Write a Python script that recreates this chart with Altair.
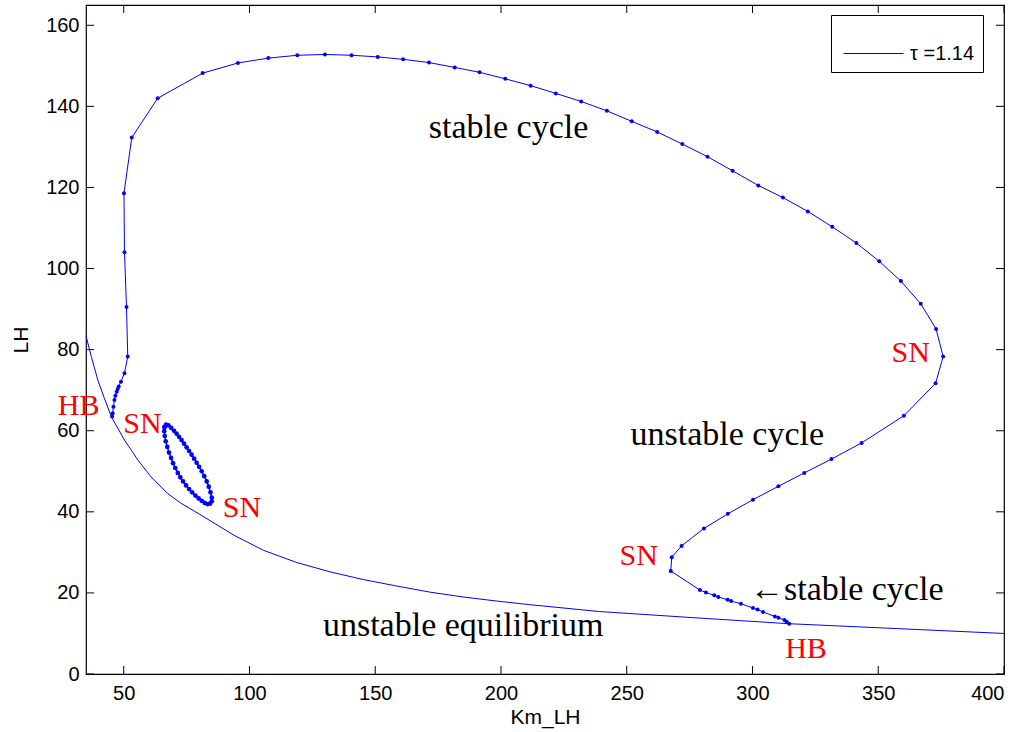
import altair as alt
import pandas as pd

# ---- data ----
# main branch of limit cycles: HB (left) -> stable cycle -> SN -> unstable cycle -> SN -> stable cycle -> HB (right)
cycle_x = [45.4, 45.6, 45.9, 46.3, 46.7, 47.2, 47.6, 48.0, 48.9, 50.3, 51.6,
           51.1, 50.3, 50.1, 53.2, 63.5, 81.4, 95.4, 107.5, 119.0, 130.0, 140.6, 151.0,
           161.1, 171.4, 181.6, 191.5, 201.7, 211.8, 221.8, 231.9, 242.1, 252.0, 262.1,
           272.1, 282.1, 292.1, 302.3, 312.1, 322.0, 331.7, 341.3, 350.4, 359.0, 366.9,
           373.0, 375.8, 372.8, 360.2, 343.4, 331.4, 320.6, 310.3, 300.2, 290.2, 280.7,
           271.8, 267.9, 267.5, 279.1, 281.5, 284.8, 286.4, 290.1, 291.5, 295.4, 300.2,
           302.0, 304.2, 308.9, 310.3, 312.7, 313.6, 314.6]
cycle_y = [63.5, 64.3, 65.9, 67.6, 68.6, 69.6, 70.3, 70.9, 72.1, 74.2, 78.3,
           90.5, 104.0, 118.6, 132.3, 142.0, 148.2, 150.7, 151.9, 152.6, 152.8, 152.6, 152.2,
           151.6, 150.8, 149.6, 148.4, 146.8, 145.1, 143.2, 141.2, 138.9, 136.3, 133.7,
           130.7, 127.6, 124.1, 120.5, 117.5, 114.1, 110.3, 106.3, 101.8, 96.9, 91.3,
           85.1, 78.3, 71.7, 63.7, 57.0, 53.0, 49.6, 46.3, 43.0, 39.5, 35.9,
           31.6, 28.8, 25.4, 20.7, 20.1, 19.4, 19.0, 18.3, 18.0, 17.3, 16.3,
           15.9, 15.3, 14.2, 13.9, 13.3, 12.9, 12.4]

# isolated closed loop of cycles (between the two SN points)
isola_x = [66.2, 66.8, 67.8, 68.9, 70.0, 71.0, 72.0, 73.0, 74.0, 75.0, 76.0, 77.0, 78.0,
           79.0, 80.0, 81.0, 82.0, 83.0, 83.8, 84.5, 85.0, 85.0, 84.3, 83.3, 82.2, 81.0,
           79.8, 78.5, 77.2, 76.0, 74.8, 73.6, 72.5, 71.5, 70.5, 69.6, 68.8, 68.0, 67.3,
           66.7, 66.3, 66.1, 66.2]
isola_y = [60.9, 61.5, 61.3, 60.7, 60.0, 59.3, 58.5, 57.7, 56.8, 55.9, 55.0, 54.1, 53.1,
           52.1, 51.1, 50.0, 48.8, 47.5, 46.2, 44.8, 43.5, 42.6, 42.0, 41.9, 42.2, 42.7,
           43.3, 44.0, 44.8, 45.6, 46.5, 47.5, 48.5, 49.6, 50.8, 52.0, 53.3, 54.6, 56.0,
           57.4, 58.7, 59.9, 60.9]

# equilibrium branch
equil_x = [35.0, 37.1, 39.7, 42.3, 45.2, 50.3, 55.6, 60.9, 67.5, 72.8, 80.7, 87.3,
           93.9, 105.6, 118.8, 132.0, 145.2, 158.5, 171.7, 184.9, 198.2, 211.4,
           239.2, 278.8, 314.6, 357.4, 400.0]
equil_y = [83.4, 78.3, 72.5, 68.0, 63.3, 57.7, 52.8, 48.6, 44.5, 42.1, 39.2, 36.7,
           34.2, 30.5, 27.5, 25.2, 23.3, 21.7, 20.2, 19.0, 18.0, 17.1,
           15.4, 13.8, 12.4, 11.2, 10.0]

x_ticks = [50, 100, 150, 200, 250, 300, 350, 400]
y_ticks = [0, 20, 40, 60, 80, 100, 120, 140, 160]

series_label = "\u03c4 =1.14"

# annotations (text, left x and baseline y in data units)
words_text = ["stable cycle", "unstable cycle", "\u2190stable cycle", "unstable equilibrium"]
words_x = [171.3, 251.5, 299.0, 129.2]
words_y = [132.3, 56.5, 18.2, 9.3]

marks_text = ["SN", "SN", "HB", "HB", "SN", "SN"]
marks_x = [355.3, 247.1, 313.0, 23.8, 49.8, 89.4]
marks_y = [77.0, 26.9, 3.9, 63.9, 59.4, 38.8]

# ---- chart ----
W, H = 918, 669
BLUE = "#0000ff"

xs = alt.Scale(domain=[35, 400], nice=False, zero=False)
ys = alt.Scale(domain=[0, 165], nice=False, zero=False)

x_axis = alt.Axis(values=x_ticks, title="Km_LH", ticks=False, grid=False, domain=False,
                  labelFont="Liberation Sans", labelFontSize=20, labelColor="black",
                  labelPadding=9, titleFont="Liberation Sans", titleFontSize=21,
                  titleFontWeight="normal", titleColor="black", titlePadding=3)
y_axis = alt.Axis(values=y_ticks, title="LH", ticks=False, grid=False, domain=False,
                  labelFont="Liberation Sans", labelFontSize=20, labelColor="black",
                  labelPadding=7, titleFont="Liberation Sans", titleFontSize=21,
                  titleFontWeight="normal", titleColor="black", titlePadding=14)

cycle_df = pd.DataFrame({"Km_LH": cycle_x, "LH": cycle_y,
                         "order": list(range(len(cycle_x))), "series": series_label})
isola_df = pd.DataFrame({"Km_LH": isola_x, "LH": isola_y, "order": list(range(len(isola_x)))})
equil_df = pd.DataFrame({"Km_LH": equil_x, "LH": equil_y, "order": list(range(len(equil_x)))})
words_df = pd.DataFrame({"t": words_text, "Km_LH": words_x, "LH": words_y})
marks_df = pd.DataFrame({"t": marks_text, "Km_LH": marks_x, "LH": marks_y})
xt_df = pd.DataFrame({"Km_LH": x_ticks})
yt_df = pd.DataFrame({"LH": y_ticks})


def X():
    return alt.X("Km_LH:Q", scale=xs, axis=x_axis)


def Y():
    return alt.Y("LH:Q", scale=ys, axis=y_axis)


cycle_line = alt.Chart(cycle_df).mark_line(strokeWidth=1, clip=False).encode(
    x=X(), y=Y(), order="order:Q",
    color=alt.Color("series:N", scale=alt.Scale(range=[BLUE]),
                    legend=alt.Legend(title=None, orient="none", legendX=745, legendY=10,
                                      symbolType="stroke", symbolSize=3600,
                                      symbolStrokeWidth=1, symbolOffset=4,
                                      labelFont="Liberation Sans", labelFontSize=20,
                                      labelColor="black", labelOffset=6,
                                      fillColor="white", strokeColor="black",
                                      padding=8)))
cycle_pts = alt.Chart(cycle_df).mark_circle(size=16, opacity=1, color=BLUE).encode(
    x=X(), y=Y())

isola_line = alt.Chart(isola_df).mark_line(strokeWidth=1.5, color=BLUE).encode(
    x=X(), y=Y(), order="order:Q")
isola_pts = alt.Chart(isola_df).mark_circle(size=22, opacity=1, color=BLUE).encode(
    x=X(), y=Y())

equil_line = alt.Chart(equil_df).mark_line(strokeWidth=1, color=BLUE).encode(
    x=X(), y=Y(), order="order:Q")

words = alt.Chart(words_df).mark_text(align="left", baseline="alphabetic",
                                      font="Liberation Serif", fontSize=34,
                                      color="black").encode(x=X(), y=Y(), text="t:N")
marks = alt.Chart(marks_df).mark_text(align="left", baseline="alphabetic",
                                      font="Liberation Serif", fontSize=30,
                                      color="#ff0000").encode(x=X(), y=Y(), text="t:N")

tick_len = 8
ticks_bottom = alt.Chart(xt_df).mark_rule(color="black", strokeWidth=1).encode(
    x=X(), y=alt.value(H), y2=alt.value(H - tick_len))
ticks_top = alt.Chart(xt_df).mark_rule(color="black", strokeWidth=1).encode(
    x=X(), y=alt.value(0), y2=alt.value(tick_len))
ticks_left = alt.Chart(yt_df).mark_rule(color="black", strokeWidth=1).encode(
    y=Y(), x=alt.value(0), x2=alt.value(tick_len))
ticks_right = alt.Chart(yt_df).mark_rule(color="black", strokeWidth=1).encode(
    y=Y(), x=alt.value(W - tick_len), x2=alt.value(W))

chart = alt.layer(
    cycle_line, equil_line, isola_line, cycle_pts, isola_pts,
    ticks_bottom, ticks_top, ticks_left, ticks_right, words, marks
).properties(
    width=W, height=H,
    autosize=alt.AutoSizeParams(type="none"),
    padding={"left": 86, "top": 5, "right": 23, "bottom": 58},
    background="white",
).configure_view(stroke="black", strokeWidth=1.2)

chart.save("out.html", embed_options={"renderer": "svg", "actions": False})
